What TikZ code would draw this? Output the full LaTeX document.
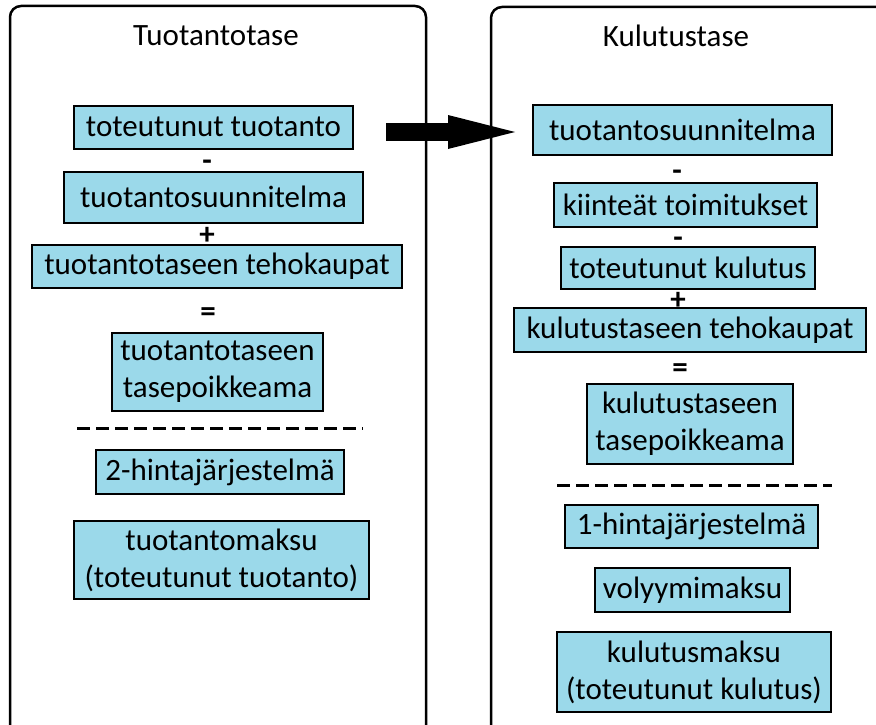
\documentclass[tikz,border=0pt]{standalone}
\usepackage{fontspec}
\setmainfont{Carlito}
\usetikzlibrary{arrows.meta}
\definecolor{boxblue}{RGB}{155,217,234}
\tikzset{
  panel/.style={line width=2.5pt, rounded corners=11pt},
  box/.style={draw=black, fill=boxblue, line width=2pt, inner sep=2pt, align=center,
    font=\fontsize{31}{37}\selectfont},
  op/.style={font=\fontsize{31}{37}\selectfont\bfseries, text height=18pt, text depth=0pt, inner sep=0pt},
  ttl/.style={font=\fontsize{31}{37}\selectfont, inner sep=0pt},
  sep/.style={line width=3pt, dash pattern=on 13pt off 6pt},
  bigarrow/.style={line width=18pt, -{Triangle[length=67pt,width=34pt,line width=0pt]}}
}
\begin{document}
\begin{tikzpicture}[x=1pt,y=-1pt]
\useasboundingbox (0,0) rectangle (876,725);
\clip (0,0) rectangle (876,725);
% panels
\draw[panel] (10,740) -- (10,6) -- (426,6) -- (426,740);
\draw[panel] (491,740) -- (491,7) -- (890,7);
\node[ttl] (t1) at (216,36) {Tuotantotase};
\node[ttl] (t2) at (676,36) {Kulutustase};
% left column
\node[box, minimum width=279pt, minimum height=43pt] (tt) at (213.5,127) {toteutunut tuotanto};
\node[op] (o1) at (207,161) {-};
\node[box, minimum width=299pt, minimum height=51pt] (ts) at (213.5,197) {tuotantosuunnitelma};
\node[op] (o2) at (207,235) {+};
\node[box, minimum width=370pt, minimum height=43pt] (tte) at (217,266.5) {tuotantotaseen tehokaupat};
\node[op] (o3) at (208,312) {=};
\node[box, minimum width=211pt, minimum height=78pt] (ttp) at (217.5,372) {tuotantotaseen\\tasepoikkeama};
\coordinate (d1a) at (77,428);
\coordinate (d1b) at (363,428);
\draw[sep] (d1a) -- (d1b);
\node[box, minimum width=248pt, minimum height=44pt] (h2) at (220,472) {2-hintajärjestelmä};
\node[box, minimum width=295pt, minimum height=78pt] (tm) at (221.5,560) {tuotantomaksu\\(toteutunut tuotanto)};
% right column
\node[box, minimum width=299pt, minimum height=50pt] (ks) at (682.5,130) {tuotantosuunnitelma};
\node[op] (o4) at (677,171) {-};
\node[box, minimum width=263pt, minimum height=44pt] (kt) at (685.5,205) {kiinteät toimitukset};
\node[op] (o5) at (678,238) {-};
\node[box, minimum width=254pt, minimum height=42pt] (tk) at (688,268) {toteutunut kulutus};
\node[op] (o6) at (678,300) {+};
\node[box, minimum width=352pt, minimum height=44pt] (kte) at (690,330) {kulutustaseen tehokaupat};
\node[op] (o7) at (680,368) {=};
\node[box, minimum width=206pt, minimum height=80pt] (ktp) at (690,424) {kulutustaseen\\tasepoikkeama};
\coordinate (d2a) at (557,485);
\coordinate (d2b) at (832,485);
\draw[sep] (d2a) -- (d2b);
\node[box, minimum width=253pt, minimum height=43pt] (h1) at (691.5,526.5) {1-hintajärjestelmä};
\node[box, minimum width=195pt, minimum height=44pt] (vm) at (692.5,590) {volyymimaksu};
\node[box, minimum width=274pt, minimum height=80pt] (km) at (694,672) {kulutusmaksu\\(toteutunut kulutus)};
% arrow
\draw[bigarrow] ([xshift=32pt,yshift=-5pt]tt.east) -- ([xshift=-17pt,yshift=-2pt]ks.west);
\end{tikzpicture}
\end{document}
